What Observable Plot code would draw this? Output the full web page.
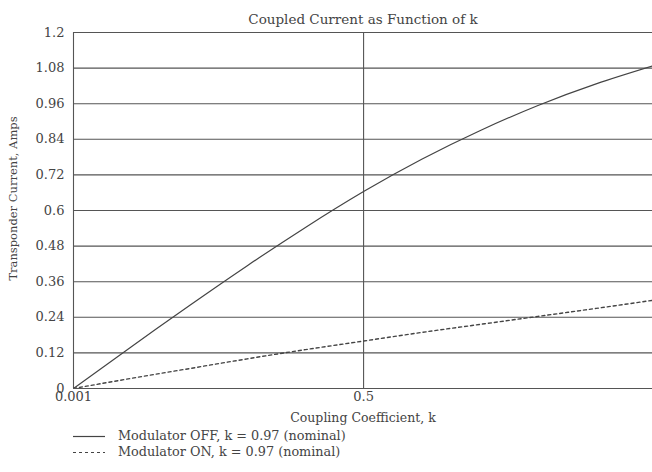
<!DOCTYPE html>
<html>
<head>
<meta charset="utf-8">
<script src="https://cdn.jsdelivr.net/npm/d3@7"></script>
<script src="https://cdn.jsdelivr.net/npm/@observablehq/plot@0.6"></script>
<style>
  html, body { margin: 0; padding: 0; background: #fff; overflow: hidden; }
  #wrap { width: 652px; font-family: "DejaVu Serif", serif; color: #444; }
  .leg { position: relative; height: 16px; font-size: 12.8px; line-height: 16px; }
  .leg svg { position: absolute; left: 73px; top: 0; }
  .leg span { position: absolute; left: 118px; top: 0; white-space: nowrap; }
</style>
</head>
<body>
<div id="wrap"></div>
<script>
// Data
const title = "Coupled Current as Function of k";
const xLabel = "Coupling Coefficient, k";
const yLabel = "Transponder Current, Amps";
const seriesNames = ["Modulator OFF, k = 0.97 (nominal)", "Modulator ON, k = 0.97 (nominal)"];

const kOff = [0.001, 0.1, 0.2, 0.3, 0.4, 0.5, 0.6, 0.7, 0.8, 0.9, 1.0];
const iOff = [0, 0.14, 0.279, 0.414, 0.543, 0.664, 0.773, 0.869, 0.954, 1.027, 1.089];

const kOn = [0.001, 0.1, 0.2, 0.3, 0.4, 0.5, 0.6, 0.7, 0.8, 0.9, 1.0];
const iOn = [0, 0.034, 0.067, 0.1, 0.131, 0.16, 0.189, 0.216, 0.243, 0.27, 0.298];

const xTicks = [0.001, 0.5];
const xTickLabels = ["0.001", "0.5"];
const yTicks = [0, 0.12, 0.24, 0.36, 0.48, 0.6, 0.72, 0.84, 0.96, 1.08, 1.2];
const yTickLabels = ["0", "0.12", "0.24", "0.36", "0.48", "0.6", "0.72", "0.84", "0.96", "1.08", "1.2"];

const offData = kOff.map((k, i) => ({k, v: iOff[i]}));
const onData = kOn.map((k, i) => ({k, v: iOn[i]}));
const xMin = 0.001, xMax = 0.997;

const ink = "#444";
const plot = Plot.plot({
  width: 652,
  height: 428,
  marginLeft: 73,
  marginRight: 0,
  marginTop: 32,
  marginBottom: 40,
  style: {fontFamily: "DejaVu Serif, serif", fontSize: "13px", color: ink, background: "#fff"},
  x: {domain: [xMin, xMax], ticks: xTicks, tickFormat: d => xTickLabels[xTicks.indexOf(d)], tickSize: 0, tickPadding: 3,
      label: null},
  y: {domain: [0, 1.2], ticks: yTicks, tickFormat: d => yTickLabels[yTicks.indexOf(d)], tickSize: 0, tickPadding: 9,
      label: null},
  marks: [
    Plot.ruleY(yTicks, {x1: xMin, x2: xMax, stroke: "#555", strokeWidth: 1.1}),
    Plot.ruleX([xMin, 0.5], {y1: 0, y2: 1.2, stroke: "#555", strokeWidth: 1.1}),
    Plot.line(offData, {x: "k", y: "v", stroke: ink, strokeWidth: 1.2, curve: "natural", clip: true}),
    Plot.line(onData, {x: "k", y: "v", stroke: ink, strokeWidth: 1.4, strokeDasharray: "3,3", curve: "natural", clip: true}),
    Plot.text([title], {frameAnchor: "top", dy: -18, fontSize: 13.5, fill: ink}),
    Plot.text([xLabel], {frameAnchor: "bottom", dy: 33, fontSize: 12.5, fill: ink}),
    Plot.text([yLabel], {frameAnchor: "left", dx: -60, dy: -12, rotate: -90, textAnchor: "middle", fontSize: 11.5, fill: ink})
  ]
});
const wrap = document.getElementById("wrap");
wrap.appendChild(plot);

const dashes = ["none", "3,3"];
seriesNames.forEach((name, i) => {
  const row = document.createElement("div");
  row.className = "leg";
  row.innerHTML = `<svg width="34" height="16"><line x1="0" x2="32" y1="8.5" y2="8.5" stroke="${ink}" stroke-width="1.2" stroke-dasharray="${dashes[i]}"/></svg><span></span>`;
  row.querySelector("span").textContent = name;
  wrap.appendChild(row);
});
</script>
</body>
</html>
